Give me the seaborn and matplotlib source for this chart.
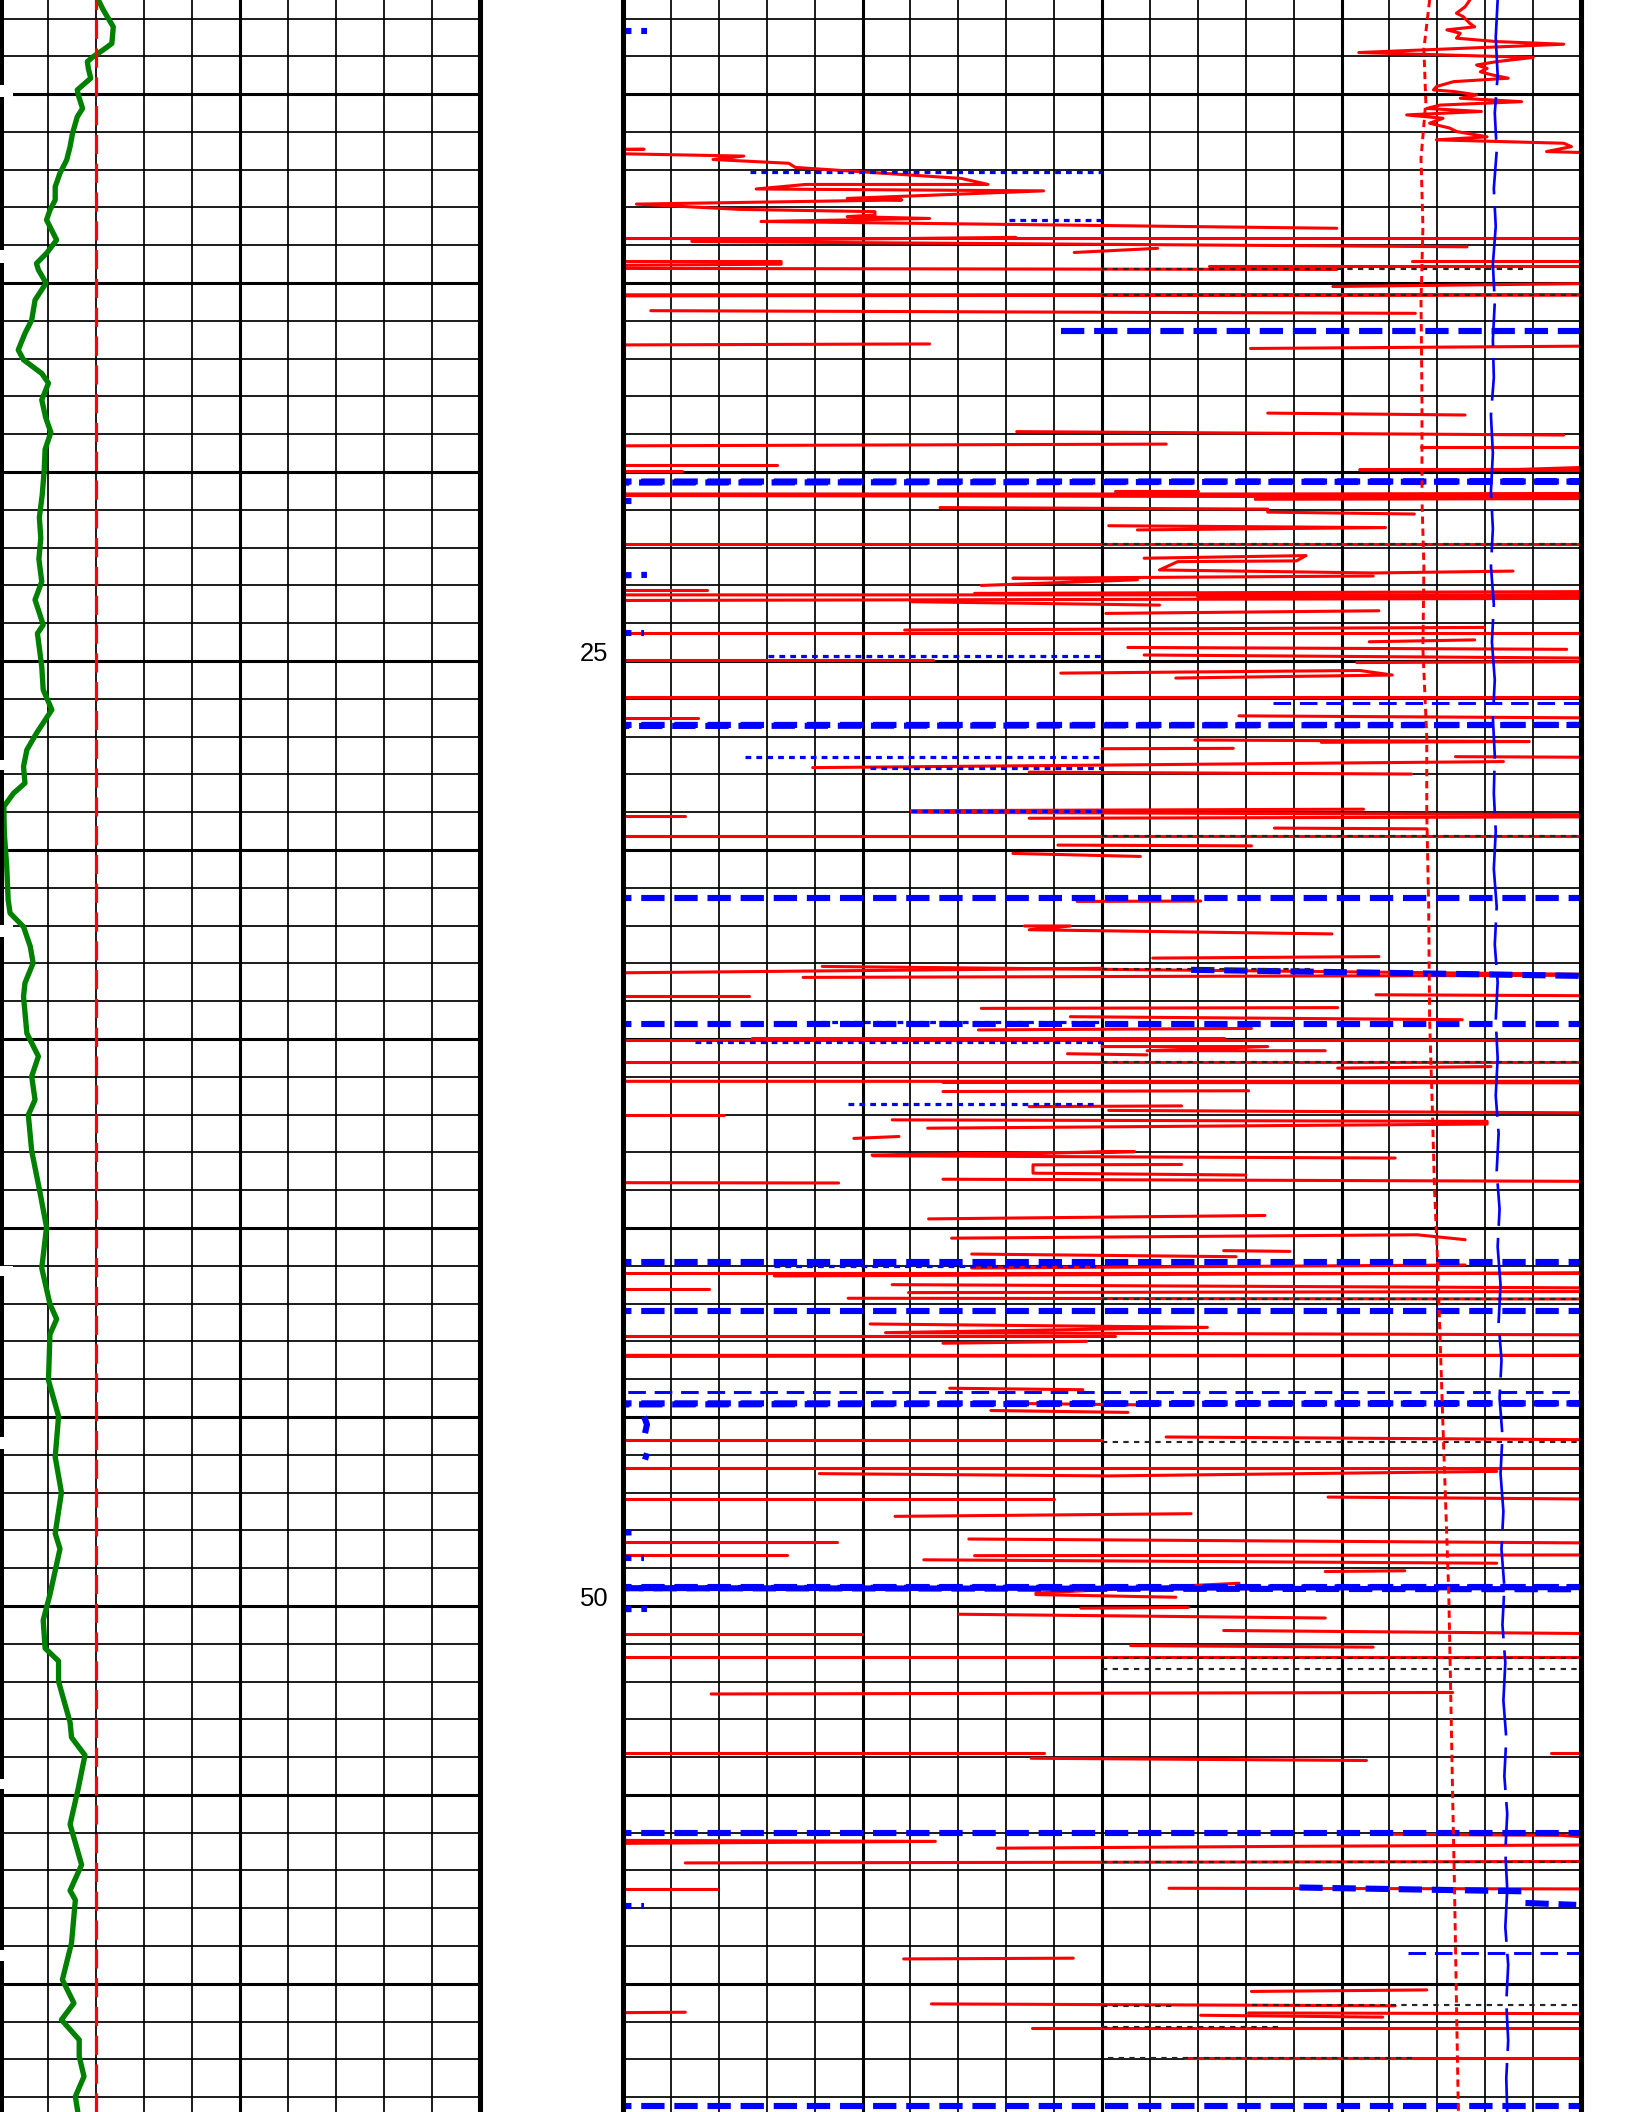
import matplotlib
matplotlib.use("Agg")
import numpy as np
import matplotlib.pyplot as plt
from matplotlib.ticker import MultipleLocator, FuncFormatter
from matplotlib.transforms import ScaledTranslation
import seaborn as sns

top_depth = 7.51
bottom_depth = 63.39

# left track: green curve (0-100 scale)
gr_depth = [7.51, 7.77, 8.22, 8.66, 8.83, 9.01, 9.14, 9.32, 9.58, 9.89, 10.02, 10.38, 10.60,
            11.04, 11.39, 11.74, 12.09, 12.45, 12.80, 13.07, 13.33, 13.86, 14.21, 14.48, 14.65,
            15.00, 15.45, 15.98, 16.33, 16.77, 17.03, 17.39, 17.65, 18.09, 18.55, 18.95, 19.40,
            19.97, 20.60, 21.20, 21.75, 22.30, 22.90, 23.38, 24.04, 24.27, 25.15, 25.76, 26.29,
            26.91, 27.35, 27.79, 28.23, 28.50, 28.85, 29.56, 30.44, 31.32, 31.67, 32.03, 32.55,
            32.99, 33.52, 33.88, 34.85, 35.46, 35.99, 36.61, 37.01, 37.96, 39.04, 39.98, 41.06,
            42.01, 42.41, 42.82, 44.03, 44.98, 46.06, 47.00, 48.08, 48.49, 49.70, 50.38, 51.12,
            51.46, 52.00, 53.08, 53.48, 53.95, 54.83, 55.78, 56.85, 57.53, 57.78, 58.92, 59.89,
            60.51, 60.95, 61.48, 61.92, 62.45, 62.98, 63.38]
gr_value = [20.5, 21.5, 23.6, 23.3, 21.5, 19.4, 18.2, 18.4, 18.9, 16.1, 16.3, 17.2, 16.1,
            15.1, 14.6, 13.9, 12.5, 11.5, 11.5, 10.4, 9.7, 11.8, 9.7, 7.6, 8.0,
            9.6, 7.3, 6.6, 5.2, 3.8, 4.9, 8.7, 10.1, 8.7, 9.5, 10.6, 9.4,
            9.2, 8.8, 8.2, 8.5, 8.1, 8.7, 7.3, 9.0, 7.8, 8.7, 9.0, 10.8,
            7.6, 5.6, 4.9, 5.2, 2.8, 0.8, 0.9, 1.4, 1.7, 2.1, 4.9, 6.3,
            6.9, 5.2, 4.9, 5.6, 8.0, 6.6, 7.3, 5.9, 6.6, 8.3, 9.7, 8.7,
            10.4, 11.8, 10.4, 10.1, 12.2, 11.5, 12.8, 11.5, 12.5, 10.4, 9.0, 9.4,
            12.2, 12.2, 14.6, 14.9, 17.7, 16.3, 14.6, 17.0, 14.6, 15.7, 14.9, 13.0,
            15.4, 12.8, 16.5, 16.5, 17.5, 15.7, 16.2]
sp_baseline = 20

# black curve hugging the left edge of the left track (visible stretches)
edge_top = [7.51, 10.08, 14.47, 27.88, 32.30, 41.27, 45.84, 54.84, 59.40]
edge_bottom = [9.76, 14.12, 27.62, 31.98, 41.00, 45.53, 54.57, 59.10, 63.39]
edge_value = 0
edge_gap_width = 2.7

# right track: red solid curve, one stroke per list (-5 / 105 = off scale)
red_depth = [
    [7.51, 7.69, 7.86, 7.95, 8.13, 8.22, 8.30, 8.39, 8.52, 8.61, 8.68, 8.90, 9.03, 9.14, 9.23,
     9.32, 9.41, 9.49, 9.58, 9.67, 9.80, 9.89, 9.93, 10.02, 10.11, 10.20, 10.29, 10.38, 10.46,
     10.55, 10.64, 10.77, 10.90, 10.99, 11.13, 11.21, 11.30, 11.39, 11.52, 11.58],
    [11.46, 11.46, 11.48],
    [11.58, 11.58, 11.64, 11.73, 11.83, 11.94, 12.23, 12.39, 12.39, 12.51, 12.56, 12.76, 12.80,
     12.91, 13.05, 13.11, 13.20, 13.24, 13.29, 13.37, 13.55],
    [13.80, 13.80], [13.88, 13.79], [13.90, 14.04], [14.19, 14.08], [14.43, 14.43, 14.50, 14.54],
    [14.41, 14.41], [14.61, 14.64], [14.56, 14.56], [15.09, 15.00], [15.31, 15.31, 15.34],
    [15.73, 15.80], [16.64, 16.61], [16.73, 16.66], [18.44, 18.49], [18.93, 19.02], [19.31, 19.26],
    [19.33, 19.33], [19.81, 19.81], [19.96, 19.96], [19.96, 19.94, 19.93, 19.84],
    [20.58, 20.58, 20.62, 20.66], [20.50, 20.50], [20.72, 20.70], [20.94, 20.98, 21.06, 21.11],
    [21.42, 21.47, 21.53], [21.90, 21.90], [22.28, 22.21, 22.35, 22.37, 22.59, 22.67, 22.62],
    [23.00, 22.85, 22.81, 22.75], [23.12, 23.12], [23.21, 23.16], [23.25, 23.25, 23.30, 23.30],
    [23.40, 23.34], [23.43, 23.52], [23.74, 23.67], [24.18, 24.11], [24.27, 24.27], [24.49, 24.44],
    [24.64, 24.69], [24.84, 24.93], [24.97, 24.97], [25.04, 25.01], [25.32, 25.25, 25.37, 25.45],
    [25.94, 25.94], [26.45, 26.51], [26.51, 26.51], [27.09, 27.13, 27.15], [27.32, 27.31],
    [27.53, 27.55], [27.82, 27.66], [27.94, 27.99], [28.96, 28.92], [29.10, 29.10], [29.16, 29.12],
    [29.00, 29.07], [29.42, 29.44], [29.64, 29.64], [29.87, 29.89], [30.09, 30.17], [31.36, 31.35],
    [32.01, 32.01, 32.11, 32.22], [32.86, 32.82], [33.08, 33.30], [33.26, 33.13], [33.37, 33.31],
    [33.86, 33.86], [33.83, 33.86], [34.19, 34.17], [34.41, 34.49], [34.76, 34.72], [35.02, 35.02],
    [34.98, 34.98], [35.20, 35.20, 35.31, 35.31], [35.39, 35.42], [35.60, 35.60], [35.77, 35.73],
    [36.12, 36.12, 36.15, 36.16], [36.39, 36.37], [36.79, 36.77], [37.01, 37.01], [36.89, 36.96],
    [37.14, 37.18, 37.25, 37.36], [37.63, 37.58], [38.07, 37.98, 38.09, 38.15],
    [38.32, 38.33, 38.55, 38.60], [38.80, 38.81], [38.71, 38.77], [39.76, 39.67],
    [40.27, 40.18, 40.31], [40.69, 40.76], [40.60, 40.62], [41.06, 40.98], [41.27, 41.18],
    [41.18, 41.18], [41.62, 41.62], [41.50, 41.59], [41.71, 41.68], [41.86, 41.88],
    [42.54, 42.63, 42.77, 42.83], [42.85, 42.85], [43.05, 43.00], [43.37, 43.37, 43.40],
    [44.24, 44.28], [44.64, 44.68], [44.83, 44.88], [45.61, 45.61], [45.53, 45.61], [46.35, 46.35],
    [46.50, 46.56, 46.44], [47.18, 47.18], [47.12, 47.18], [47.63, 47.56], [48.32, 48.32],
    [48.23, 48.34], [48.65, 48.65], [48.67, 48.65], [48.78, 48.87], [49.09, 49.07], [49.66, 49.40],
    [49.70, 49.77], [50.06, 50.04], [50.22, 50.32], [50.75, 50.75], [50.65, 50.74], [51.05, 51.09],
    [51.34, 51.34], [52.33, 52.29], [53.88, 53.88], [53.89, 53.89], [54.03, 54.09],
    [56.20, 56.23, 56.29], [56.04, 56.07, 56.19], [56.41, 56.36, 56.32], [56.80, 56.76],
    [57.48, 57.48], [57.47, 57.49], [59.34, 59.32], [60.20, 60.16], [60.77, 60.75], [60.53, 60.58],
    [60.83, 60.88], [60.77, 60.79], [61.17, 61.17], [61.95, 61.95],
]
red_value = [
    [88.4, 87.9, 87.0, 87.7, 88.4, 88.9, 86.0, 87.4, 87.0, 91.2, 98.2, 76.8, 95.0, 91.2, 89.1,
     90.2, 89.5, 90.7, 92.4, 86.7, 84.9, 84.6, 86.7, 89.1, 87.4, 93.8, 85.3, 83.9, 89.6,
     81.8, 85.6, 84.2, 86.3, 87.0, 90.2, 84.9, 98.2, 99.0, 96.4, 105],
    [-5, 2.2, -5],
    [-5, 0.2, 12.6, 9.4, 17.3, 18.0, 35.3, 38.1, 19.1, 13.9, 43.9, 23.4, 29.1,
     1.4, 12.2, 26.3, 26.3, 23.4, 32.0, 14.4, 74.5],
    [105, -5], [7.2, 41.0], [7.2, 88.1], [47.1, 55.8], [-5, 16.5, 16.5, -5],
    [105, 82.4], [-5, 74.5], [105, 61.2], [74.1, 105], [-5, 105, -5],
    [2.9, 82.7], [-5, 32.0], [65.5, 105], [67.3, 87.9], [41.1, 98.2], [-5, 56.7],
    [83.3, 105], [-5, 16.1], [-5, 6.2], [105, 76.9, 93.5, 105],
    [-5, 105, -5, 105], [51.4, 60.0], [66.0, 105], [33.1, 67.3, 67.3, 82.6],
    [50.7, 79.6, 53.7], [-5, 105], [54.4, 71.3, 70.3, 57.9, 56.0, 78.3, 92.9],
    [37.4, 53.7, 40.7, 78.3], [-5, 8.8], [36.7, 105], [-5, 105, 60.0, 105],
    [-5, 105], [30.1, 56.0], [50.4, 78.9], [29.4, 89.9], [-5, 105], [77.9, 88.9],
    [52.7, 98.5], [54.4, 105], [-5, 32.4], [76.6, 105], [45.7, 76.9, 80.3, 57.7],
    [-5, 105], [64.3, 105], [-5, 7.8], [59.7, 94.6, 72.9], [50.0, 63.7],
    [86.9, 105], [19.8, 91.9], [42.4, 82.3], [30.1, 77.3], [-5, 6.5], [42.4, 105],
    [30.1, 105], [68.0, 83.9], [-5, 105], [45.4, 65.6], [40.7, 54.0], [47.4, 60.3],
    [41.9, 46.7, 42.4, 74.0], [55.3, 78.9], [20.8, 105], [-5, 50.0], [18.8, 105],
    [-5, 13.2], [78.6, 105], [37.4, 74.6], [46.7, 87.6], [37.1, 65.6], [-5, 105],
    [13.5, 62.7], [50.0, 67.3, 54.7, 73.3], [46.4, 54.7], [-5, 105], [74.6, 90.6],
    [-5, 105, 33.4, 105], [33.4, 65.3], [42.4, 58.3], [-5, 10.5], [50.7, 105],
    [28.1, 90.2, 90.2, 31.8], [24.1, 28.8], [26.0, 53.4, 26.1, 80.6],
    [58.3, 42.8, 42.8, 65.0], [-5, 22.5], [33.4, 105], [31.9, 67.0],
    [34.3, 82.9, 87.9], [36.4, 64.0], [62.7, 69.6], [36.4, 87.9], [15.8, 105],
    [-5, 105], [-5, 9.0], [28.1, 105], [29.8, 105], [23.5, 105],
    [25.8, 61.0, 27.4, 105], [-5, 51.4], [33.4, 48.4], [-5, 105, -5],
    [34.1, 48.0], [39.9, 54.0], [38.4, 52.7], [-5, 50.0], [56.7, 105], [-5, 105],
    [20.5, 50.7, 91.2], [-5, 45.0], [73.6, 105], [28.4, 59.3], [-5, 22.3],
    [36.1, 105], [-5, 17.1], [36.7, 105], [31.4, 91.2], [73.3, 81.6], [43.1, 64.3],
    [43.1, 57.7], [47.8, 59.0], [35.1, 73.3], [-5, 24.9], [62.7, 105], [53.0, 78.3],
    [-5, 105], [9.2, 86.6], [96.9, 105], [-5, 43.9], [42.6, 77.6],
    [-5, 32.6, -5], [79.3, 97.9, 105], [39.1, 70.3, 105], [6.5, 105],
    [-5, 9.8], [57.0, 105], [29.3, 47.0], [65.6, 83.9], [-5, 6.5], [32.2, 80.6],
    [60.3, 79.3], [65.3, 105], [42.7, 105], [58.7, 105],
]

# right track: thick blue dashed curve
blue_depth = [
    [8.33, 8.33], [16.27, 16.27], [20.25, 20.25, 20.28], [20.76, 20.76], [22.75, 22.72],
    [24.27, 24.27], [26.69, 26.69, 26.72], [31.26, 31.26], [33.17, 33.35], [34.60, 34.60],
    [40.91, 40.91], [42.21, 42.21], [44.64, 44.64, 44.67], [44.99, 45.20, 45.43], [45.96, 46.13],
    [48.08, 48.05], [48.72, 48.72], [49.50, 49.50, 49.53, 49.56], [50.10, 50.08], [56.01, 56.01],
    [57.45, 57.55], [57.86, 57.91], [57.95, 57.95], [63.24, 63.24],
]
blue_value = [
    [-5, 2.5], [45.7, 105], [-5, 105, -5], [-5, 1.0], [-5, 2.5],
    [-5, 2.2], [-5, 105, -5], [-5, 105], [59.3, 105], [-5, 105],
    [-5, 105], [-5, 105], [-5, 105, -5], [2.2, 2.5, 2.3], [2.5, 2.3],
    [-5, 1.9], [-5, 2.2], [-5, 105, -5, 105], [-5, 2.5], [-5, 105],
    [70.6, 93.9], [94.2, 99.5], [-5, 2.2], [-5, 105],
]

# thin blue dashed curve
thin_depth = [26.12, 44.34, 59.19]
thin_start = [67.8, -5, 81.9]
thin_end = [105, 105, 105]

# blue dotted curve (left half of the track)
dot_depth = [12.05, 13.33, 24.87, 27.54, 27.82, 28.97, 34.54, 35.09, 36.73, 41.00]
dot_start = [13.3, 40.3, 15.1, 12.7, 25.8, 30.1, 19.5, 7.5, 23.5, 15.8]
dot_end = [50, 50, 50, 50, 50, 50, 50, 50, 49.4, 50]

# black dashed curve (right half of the track)
dash_depth = [14.64, 15.31, 21.90, 29.64, 33.14, 35.62, 41.88, 45.65, 51.37, 51.66,
              56.78, 60.58, 60.56, 61.15, 61.96]
dash_start = [50, 50, 50, 50, 50, 50, 50, 50, 50, 50, 50, 50, 65.7, 50, 50.6]
dash_end = [93.9, 100, 100, 100, 72.0, 100, 100, 100, 100, 100, 100, 57.7, 100, 68.4, 82.5]

# red dotted curve
rdot_depth = [7.51, 8.8, 10.2, 11.7, 13.5, 15.5, 18.1, 20.7, 22.5, 24.7, 27.0, 29.0, 31.5,
              34.5, 37.0, 38.9, 40.7, 43.0, 45.3, 47.5, 49.7, 52.3, 55.0, 57.5, 60.5, 63.39]
rdot_value = [84.2, 83.6, 83.8, 83.3, 83.5, 83.3, 83.4, 83.4, 83.6, 83.5, 83.9, 83.9, 84.1,
              84.2, 84.5, 84.7, 85.0, 85.3, 85.6, 85.9, 86.2, 86.4, 86.6, 86.8, 87.0, 87.2]

# blue long-dash curve
bl_depth = [7.51, 8.5, 9.5, 10.5, 11.5, 12.5, 13.5, 14.5, 15.5, 16.5, 17.5, 18.5, 19.5, 20.5,
            21.5, 22.5, 23.5, 24.5, 25.5, 26.5, 27.5, 28.5, 29.5, 30.5, 31.5, 32.5, 33.5, 34.5,
            35.5, 36.5, 37.5, 38.5, 39.5, 40.5, 41.5, 42.5, 43.5, 44.5, 45.5, 46.5, 47.5, 48.5,
            49.5, 50.5, 51.5, 52.5, 53.5, 54.5, 55.5, 56.5, 57.5, 58.5, 59.5, 60.5, 61.5, 62.5,
            63.39]
bl_value = [91.3, 91.1, 91.3, 91.0, 91.2, 90.9, 91.1, 90.8, 91.0, 90.8, 90.9, 90.6, 90.8, 90.6,
            90.8, 90.6, 90.9, 90.7, 91.0, 90.8, 91.0, 90.9, 91.1, 90.9, 91.2, 91.0, 91.3, 91.1,
            91.3, 91.1, 91.4, 91.2, 91.5, 91.3, 91.6, 91.4, 91.7, 91.5, 91.8, 91.6, 91.9, 91.7,
            92.0, 91.8, 92.1, 91.9, 92.2, 92.0, 92.3, 92.1, 92.3, 92.1, 92.4, 92.2, 92.4, 92.2,
            92.3]

# ---------------- figure ----------------
sns.set_style("white")
plt.rcParams["font.family"] = ["Liberation Sans", "DejaVu Sans"]

W, H = 1632, 2112
fig = plt.figure(figsize=(W / 192, H / 192), dpi=192)
ax1 = fig.add_axes([0, 0, 480 / W, 1])
ax2 = fig.add_axes([623 / W, 0, 958 / W, 1])


def style_track(ax, xmajor, xminor):
    ax.set_xlim(0, 100)
    ax.set_ylim(bottom_depth, top_depth)
    ax.xaxis.set_major_locator(MultipleLocator(xmajor))
    ax.xaxis.set_minor_locator(MultipleLocator(xminor))
    ax.yaxis.set_major_locator(MultipleLocator(5))
    ax.yaxis.set_minor_locator(MultipleLocator(1))
    ax.grid(which="major", color="black", lw=1.15)
    ax.grid(which="minor", color="black", lw=0.65)
    ax.set_axisbelow(True)
    ax.tick_params(which="both", length=0, labelbottom=False, labelleft=False)
    ax.set_xlabel("")
    ax.set_ylabel("")
    for side in ["top", "bottom"]:
        ax.spines[side].set_visible(False)
    for side in ["left", "right"]:
        ax.spines[side].set_color("black")
        ax.spines[side].set_linewidth(1.9)


# left track
sns.lineplot(x=gr_value, y=gr_depth, orient="y", sort=False, estimator=None,
             color="green", lw=2.0, ax=ax1)
ax1.axvline(sp_baseline, color="red", lw=1.2, dashes=(6, 3))
for t, b in zip(edge_top, edge_bottom):
    ax1.plot([edge_value, edge_value], [t, b], color="black", lw=3.0, solid_capstyle="butt")
# white notches where the edge curve leaves the track
for b, t in zip(edge_bottom[:-1], edge_top[1:]):
    ax1.fill_betweenx([b, t], edge_value, edge_gap_width, color="white", lw=0, zorder=1.5)
style_track(ax1, 50, 10)
ax1.spines["left"].set_visible(False)

# right track
for d, v in zip(red_depth, red_value):
    assert len(d) == len(v)
    ax2.plot(v, d, color="red", lw=1.15)
for d, v in zip(blue_depth, blue_value):
    assert len(d) == len(v)
    ax2.plot(v, d, color="blue", lw=2.3, dashes=(3.8, 1.6))
for d, a, b in zip(thin_depth, thin_start, thin_end):
    ax2.plot([a, b], [d, d], color="blue", lw=1.1, dashes=(6, 3))
for d, a, b in zip(dot_depth, dot_start, dot_end):
    ax2.plot([a, b], [d, d], color="blue", lw=1.2, dashes=(1.8, 1.6))
for d, a, b in zip(dash_depth, dash_start, dash_end):
    ax2.plot([a, b], [d, d], color="0.15", lw=0.8, dashes=(2.5, 2.5))
sns.lineplot(x=rdot_value, y=rdot_depth, orient="y", sort=False, estimator=None,
             color="red", lw=1.1, linestyle=(0, (2.5, 1.6)), ax=ax2)
sns.lineplot(x=bl_value, y=bl_depth, orient="y", sort=False, estimator=None,
             color="blue", lw=1.0, linestyle=(0, (32, 4.5, 16, 4.5, 16, 4.5)), ax=ax2)
style_track(ax2, 25, 5)
ax2.yaxis.set_major_formatter(FuncFormatter(lambda v, p: f"{v:.0f}" if v % 25 == 0 else ""))
ax2.tick_params(axis="y", which="major", labelleft=True, pad=5.5, labelsize=9.6,
                labelcolor="black")

# depth labels sit a little above their grid line in the original
fig.canvas.draw()
lift = ScaledTranslation(0, 9.5 / 192, fig.dpi_scale_trans)
for tick in ax2.yaxis.get_major_ticks():
    tick.label1.set_transform(tick.label1.get_transform() + lift)

fig.savefig("out.png", dpi=192)
